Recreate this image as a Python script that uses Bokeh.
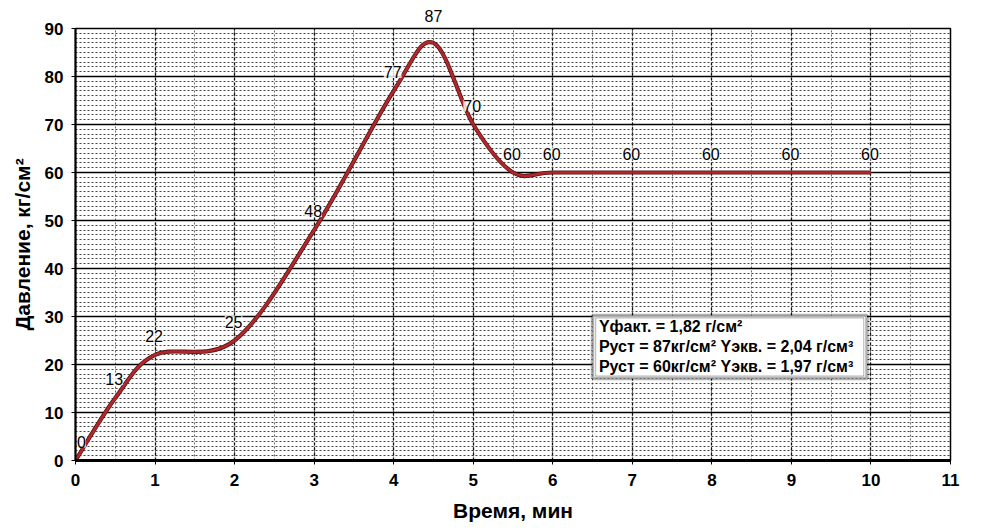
import numpy as np
from bokeh.plotting import figure
from bokeh.models import (ColumnDataSource, SingleIntervalTicker, FixedTicker, Label,
                          BoxAnnotation, Range1d, LinearAxis)
from bokeh.embed import file_html
from bokeh.resources import INLINE

# ---- data ----
time_min = [0, 0.5, 1, 2, 3, 4, 4.5, 5, 5.5, 6, 7, 8, 9, 10]
pressure = [0, 13, 22, 25, 48, 77, 87, 70, 60, 60, 60, 60, 60, 60]
point_labels = ["0", "13", "22", "25", "48", "77", "87", "70", "60", "60", "60", "60", "60", "60"]

info_lines = [
    "Yфакт. = 1,82 г/см²",
    "Руст = 87кг/см²  Yэкв. = 2,04 г/см³",
    "Руст = 60кг/см²  Yэкв. = 1,97 г/см³",
]

x_title = "Время, мин"
y_title = "Давление, кг/см²"

FONT = "Liberation Sans"
X_MAX, Y_MAX = 11, 90

p = figure(width=988, height=532, output_backend="svg", toolbar_location=None,
           x_range=Range1d(0, X_MAX), y_range=Range1d(0, Y_MAX),
           min_border_left=75, min_border_right=38, min_border_top=28, min_border_bottom=72)
p.background_fill_color = "white"
p.border_fill_color = "white"
p.outline_line_color = "black"
p.outline_line_width = 1.5

# grids
p.ygrid.ticker = SingleIntervalTicker(interval=10, num_minor_ticks=10)
p.ygrid.grid_line_color = "black"
p.ygrid.grid_line_width = 1.3
p.ygrid.minor_grid_line_color = "#444444"
p.ygrid.minor_grid_line_dash = "2 2"
p.ygrid.minor_grid_line_width = 1
p.xgrid.ticker = SingleIntervalTicker(interval=1, num_minor_ticks=2)
p.xgrid.grid_line_color = "#111111"
p.xgrid.grid_line_dash = "3 2"
p.xgrid.grid_line_width = 1.3
p.xgrid.minor_grid_line_color = "#666666"
p.xgrid.minor_grid_line_dash = "2 2"
p.xgrid.minor_grid_line_width = 1

# axes
p.xaxis.ticker = SingleIntervalTicker(interval=1)
p.yaxis.ticker = SingleIntervalTicker(interval=10)
for ax in (p.xaxis[0], p.yaxis[0]):
    ax.minor_tick_line_color = None
    ax.major_tick_line_color = "black"
    ax.major_tick_out = 4
    ax.major_tick_in = 0
    ax.axis_line_color = "black"
    ax.major_label_text_font = FONT
    ax.major_label_text_font_size = "17px"
    ax.major_label_text_font_style = "bold"
    ax.major_label_text_color = "black"
    ax.axis_label_text_font = FONT
    ax.axis_label_text_font_size = "21px"
    ax.axis_label_text_font_style = "bold"
    ax.axis_label_text_color = "black"
p.xaxis.axis_line_width = 3
p.yaxis.axis_line_width = 2
p.xaxis.axis_label = x_title
p.yaxis.axis_label = y_title
p.xaxis.major_label_standoff = 9
p.yaxis.major_label_standoff = 8
p.xaxis.axis_label_standoff = 10
p.yaxis.axis_label_standoff = 8

# smooth (Excel-style) curve through data points using Bezier segments
xs = np.array(time_min, dtype=float)
ys = np.array(pressure, dtype=float)
n = len(xs)
px = np.concatenate([[xs[0]], xs, [xs[-1]]])
py = np.concatenate([[ys[0]], ys, [ys[-1]]])
seg = dict(x0=[], y0=[], x1=[], y1=[], cx0=[], cy0=[], cx1=[], cy1=[])
for i in range(n - 1):
    p0x, p0y = px[i], py[i]
    p1x, p1y = px[i + 1], py[i + 1]
    p2x, p2y = px[i + 2], py[i + 2]
    p3x, p3y = px[i + 3], py[i + 3]
    seg["x0"].append(p1x); seg["y0"].append(p1y)
    seg["x1"].append(p2x); seg["y1"].append(p2y)
    seg["cx0"].append(p1x + (p2x - p0x) / 6); seg["cy0"].append(p1y + (p2y - p0y) / 6)
    seg["cx1"].append(p2x - (p3x - p1x) / 6); seg["cy1"].append(p2y - (p3y - p1y) / 6)
seg_src = ColumnDataSource(seg)
p.bezier(x0="x0", y0="y0", x1="x1", y1="y1", cx0="cx0", cy0="cy0", cx1="cx1", cy1="cy1",
         source=seg_src, line_color="#5a1414", line_width=4.2)
p.bezier(x0="x0", y0="y0", x1="x1", y1="y1", cx0="cx0", cy0="cy0", cx1="cx1", cy1="cy1",
         source=seg_src, line_color="#b0282c", line_width=2.6)

# point labels
i_max = int(np.argmax(ys))
for i, (xv, yv, t) in enumerate(zip(time_min, pressure, point_labels)):
    if i == i_max:
        continue  # drawn above the frame by an extra axis (annotations are clipped to frame)
    x_off = 6 if xv == 0 else -1
    p.add_layout(Label(x=xv, y=yv, x_offset=x_off, y_offset=19,
                       text=t, text_align="center", text_baseline="middle",
                       text_font=FONT, text_font_size="16px", text_color="black",
                       background_fill_color="white", background_fill_alpha=0.8))

# label of the peak, rendered as a tick label of an invisible axis above the frame
peak_axis = LinearAxis(ticker=FixedTicker(ticks=[time_min[i_max]]),
                       major_label_overrides={time_min[i_max]: point_labels[i_max]},
                       axis_line_color=None, major_tick_line_color=None,
                       minor_tick_line_color=None, major_label_standoff=1,
                       major_label_text_font=FONT, major_label_text_font_size="16px",
                       major_label_text_font_style="normal", major_label_text_color="black")
p.add_layout(peak_axis, "above")

# info box
p.add_layout(BoxAnnotation(left=6.5, right=9.95, bottom=17.1, top=30.2,
                           fill_color="white", fill_alpha=1.0,
                           line_color="black", line_width=3.5))
p.add_layout(BoxAnnotation(left=6.54, right=9.91, bottom=17.6, top=29.7,
                           fill_color="white", fill_alpha=0.0,
                           line_color="black", line_width=1))
for txt, yy in zip(info_lines, [27.9, 23.75, 19.6]):
    p.add_layout(Label(x=6.58, y=yy, text=txt, text_baseline="middle", text_align="left",
                       text_font=FONT, text_font_size="16px", text_font_style="bold",
                       text_color="black"))

open("out.html", "w").write(file_html(p, INLINE))
